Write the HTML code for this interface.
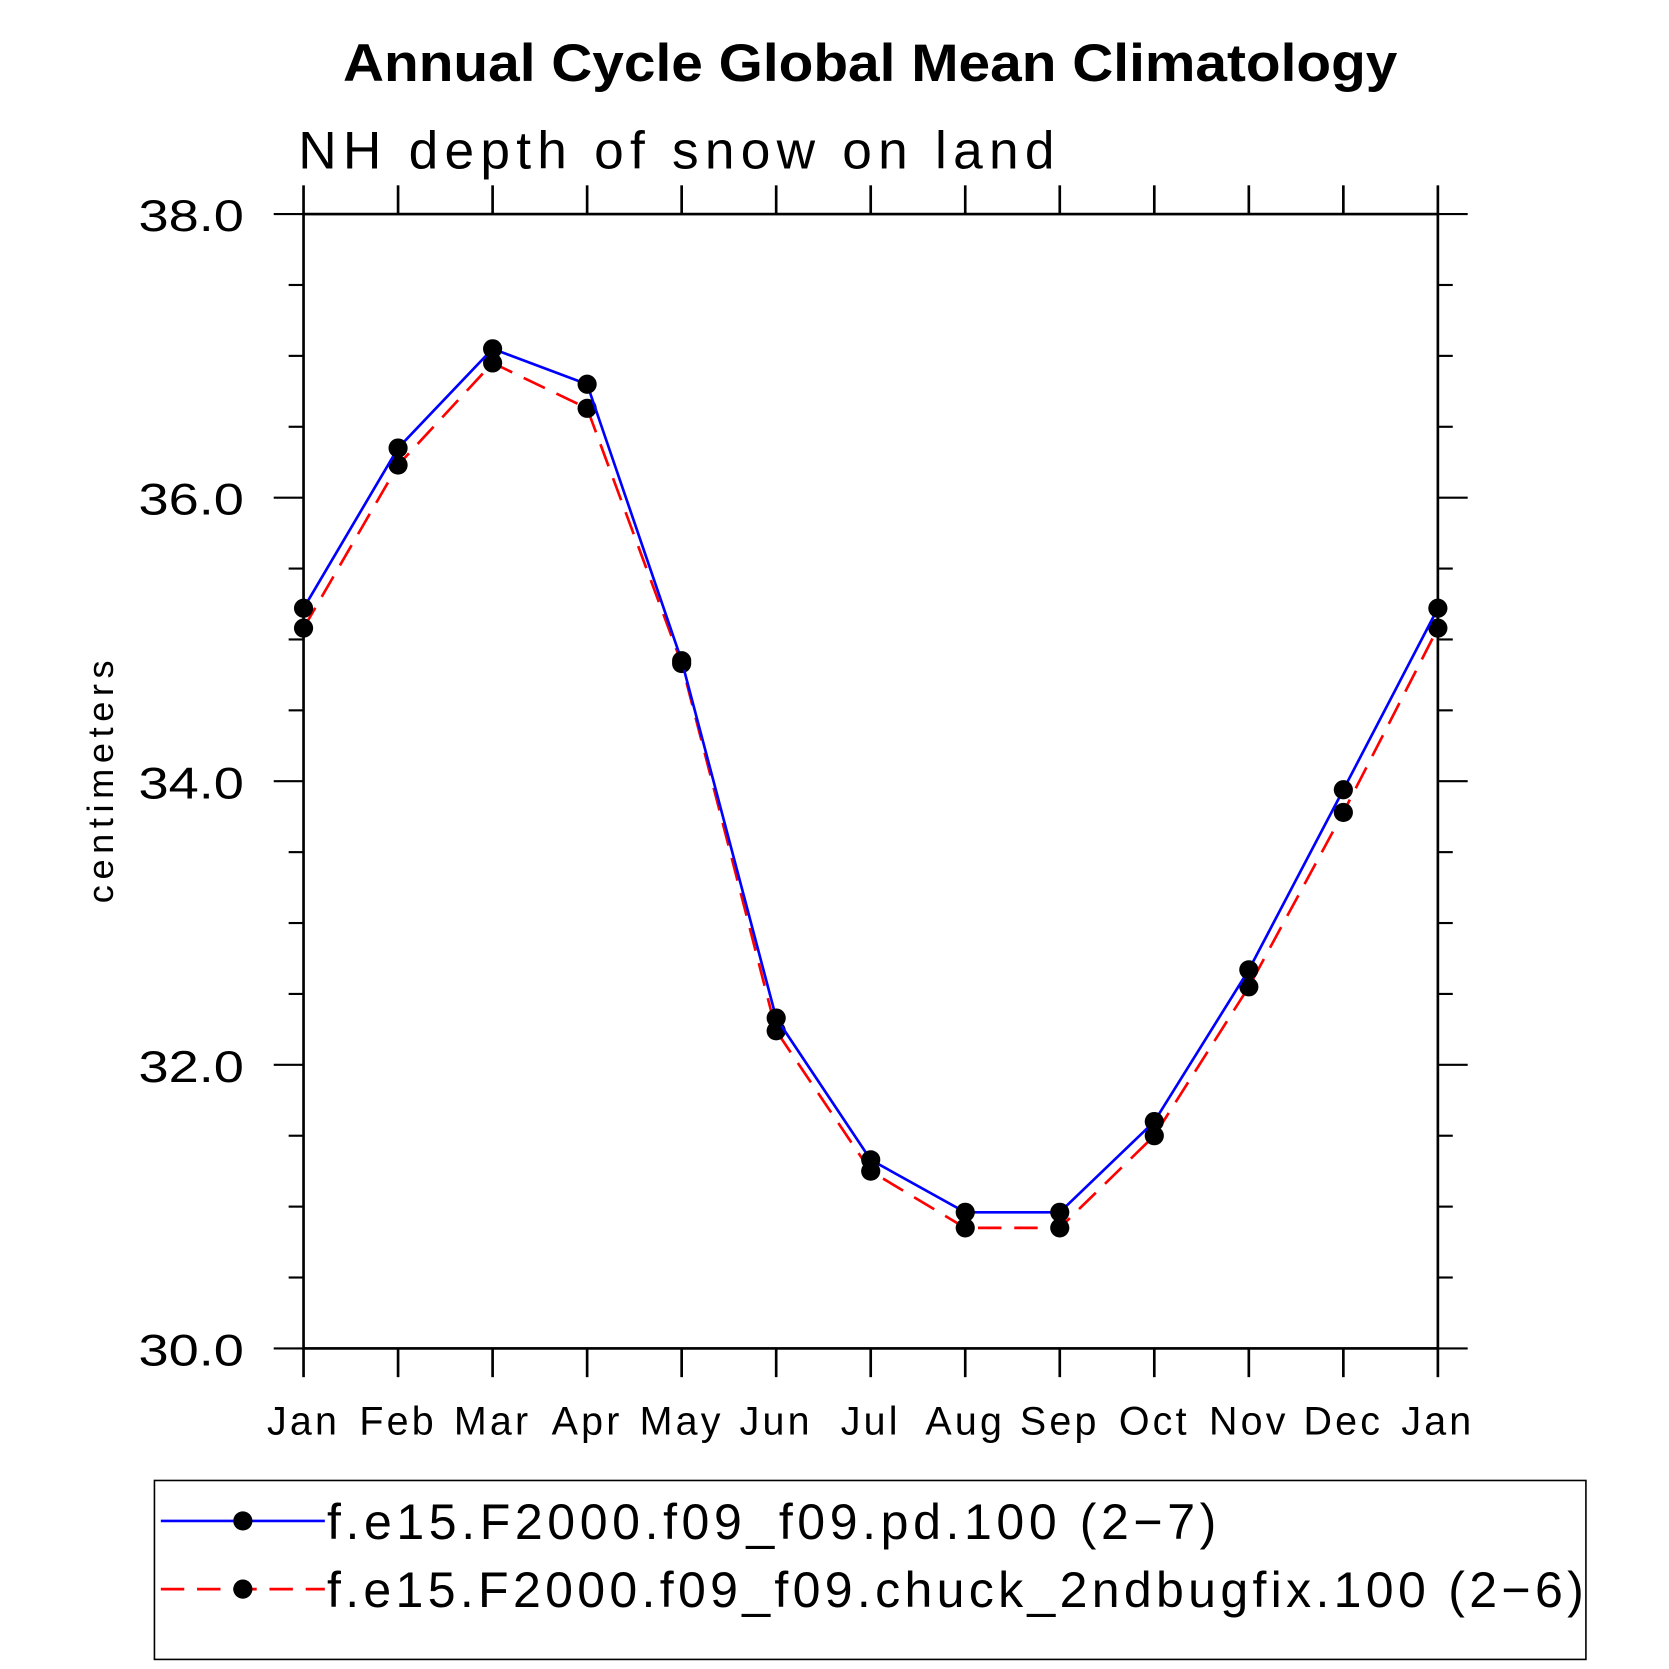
<!DOCTYPE html>
<html><head><meta charset="utf-8"><style>
html,body{margin:0;padding:0;background:#fff;}
svg{display:block;}
text{font-family:"Liberation Sans",sans-serif;}
</style></head><body>
<svg id="chart" width="1669" height="1669" viewBox="0 0 1567 1567" xmlns="http://www.w3.org/2000/svg">
<text x="322" y="76" textLength="990" lengthAdjust="spacingAndGlyphs" font-size="50" font-weight="bold">Annual Cycle Global Mean Climatology</text>
<text x="280" y="158" textLength="710" lengthAdjust="spacing" font-size="50">NH depth of snow on land</text>
<text transform="translate(106,848) rotate(-90)" textLength="228" lengthAdjust="spacing" font-size="34">centimeters</text>
<g id="axes"></g>
<g id="series"></g>
<rect x="145" y="1390" width="1344" height="168" fill="none" stroke="#000" stroke-width="1.5"/>
<g>
<line x1="151" y1="1428" x2="305" y2="1428" stroke="#0000ff" stroke-width="2.5"/>
<circle cx="228" cy="1428" r="9"/>
<text x="307" y="1445" textLength="835" lengthAdjust="spacing" font-size="47">f.e15.F2000.f09_f09.pd.100 (2−7)</text>
</g>
<g>
<line x1="151" y1="1492" x2="305" y2="1492" stroke="#ff0000" stroke-width="2.5" stroke-dasharray="22,12"/>
<circle cx="228" cy="1492" r="9"/>
<text x="307" y="1509" textLength="1180" lengthAdjust="spacing" font-size="47">f.e15.F2000.f09_f09.chuck_2ndbugfix.100 (2−6)</text>
</g>
</svg>
<script>
const months = ["Jan","Feb","Mar","Apr","May","Jun","Jul","Aug","Sep","Oct","Nov","Dec","Jan"];
const pdValues = [35.22,36.35,37.05,36.80,34.85,32.33,31.33,30.96,30.96,31.60,32.67,33.94,35.22];
const chuckValues = [35.08,36.23,36.95,36.63,34.83,32.24,31.25,30.85,30.85,31.50,32.55,33.78,35.08];
const yTicks = [30,32,34,36,38];
const yTickLabels = ["30.0","32.0","34.0","36.0","38.0"];

const X0=285,X1=1350,Y0=1266,Y1=201,YMIN=30,YMAX=38;
const xs=i=>X0+(X1-X0)*i/(months.length-1);
const ys=v=>Y0-(v-YMIN)/(YMAX-YMIN)*(Y0-Y1);
const NS="http://www.w3.org/2000/svg";
function mk(tag,attrs,parent){const e=document.createElementNS(NS,tag);for(const k in attrs)e.setAttribute(k,attrs[k]);parent.appendChild(e);return e;}
const ax=document.getElementById('axes');
const frame=mk('rect',{x:X0,y:Y1,width:X1-X0,height:Y0-Y1,fill:'none',stroke:'#000','stroke-width':2.5},ax);


months.forEach((m,i)=>{
  const x=xs(i);
  mk('line',{x1:x,y1:Y0,x2:x,y2:Y0+27,stroke:'#000','stroke-width':2.5},ax);
  mk('line',{x1:x,y1:Y1,x2:x,y2:Y1-27,stroke:'#000','stroke-width':2.5},ax);
  const t=mk('text',{x:x,y:Y0+81,'text-anchor':'middle','font-size':37,'letter-spacing':3},ax);
  t.textContent=m;
  
  
});
for(let v=YMIN;v<=YMAX+1e-9;v+=0.5){
  const y=ys(v);const major=Math.abs(v-Math.round(v/2)*2)<1e-9;
  const L=major?28:14;
  mk('line',{x1:X0-L,y1:y,x2:X0,y2:y,stroke:'#000','stroke-width':2},ax);
  mk('line',{x1:X1,y1:y,x2:X1+L,y2:y,stroke:'#000','stroke-width':2},ax);
}
yTicks.forEach((v,i)=>{
  const t=mk('text',{x:130,y:ys(v)+16,textLength:99,lengthAdjust:'spacingAndGlyphs','font-size':42},ax);
  t.textContent=yTickLabels[i];
  
  
});
const sg=document.getElementById('series');
function drawSeries(vals,color,dash,name){
  const g=mk('g',{},sg);
  
  
  const pts=vals.map((v,i)=>xs(i)+','+ys(v)).join(' ');
  const a={points:pts,fill:'none',stroke:color,'stroke-width':2.5};
  if(dash)a['stroke-dasharray']=dash;
  mk('polyline',a,g);
  vals.forEach((v,i)=>{
    const c=mk('circle',{cx:xs(i),cy:ys(v),r:9,fill:'#000'},g);
    
    
  });
}
drawSeries(chuckValues,'#ff0000','22,12','series-chuck');
drawSeries(pdValues,'#0000ff',null,'series-pd');
</script>
</body></html>
